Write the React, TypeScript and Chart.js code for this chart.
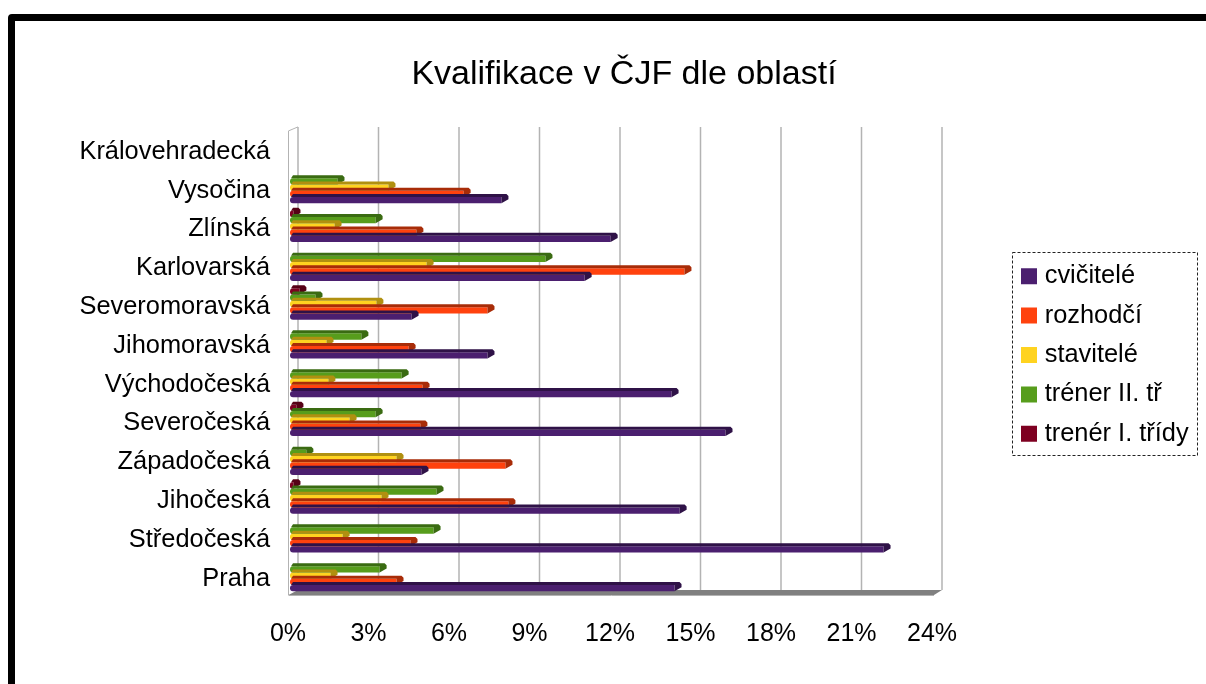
import React, { useEffect, useRef } from "react";
import { Chart, registerables } from "chart.js";

Chart.register(...registerables);

const categories = ["Praha", "Středočeská", "Jihočeská", "Západočeská", "Severočeská", "Východočeská", "Jihomoravská", "Severomoravská", "Karlovarská", "Zlínská", "Vysočina", "Královehradecká"];
const cvicitele = [14.33, 22.12, 14.52, 4.9, 16.23, 14.22, 7.36, 4.53, 10.98, 11.95, 7.88, 0];
const rozhodci = [3.97, 4.49, 8.14, 8.03, 4.86, 4.94, 4.42, 7.36, 14.7, 4.71, 6.47, 0];
const stavitele = [1.51, 1.96, 3.41, 3.97, 2.22, 1.43, 1.36, 3.22, 5.09, 1.66, 3.67, 0];
const trener2 = [3.34, 5.35, 5.46, 0.61, 3.19, 4.16, 2.66, 0.95, 9.52, 3.19, 1.77, 0];
const trener1 = [0, 0, 0.13, 0, 0.24, 0, 0, 0.35, 0, 0.13, 0, 0];
const seriesNames = ["cvičitelé", "rozhodčí", "stavitelé", "tréner II. tř", "trenér I. třídy"];
const seriesValues = [cvicitele, rozhodci, stavitele, trener2, trener1];
const seriesColors = ["#4b1f6f", "#ff420e", "#ffd320", "#579d1c", "#7e0021"];
const seriesDark = ["#2f1247", "#a82c08", "#b09010", "#3a6b12", "#560016"];

const FONT = "'Liberation Sans', Arial, sans-serif";
const WALL_DX = 8;
const WALL_DY = 5;
const BAR_DX = 7;
const BAR_DY = 3;

const frame3d = {
  id: "frame3d",
  beforeInit(chart: any) {
    const legend = chart.legend;
    const fit = legend.fit;
    legend.fit = function () {
      fit.call(this);
      this.width = 272;
    };
  },
  beforeDraw(chart: any) {
    const l = chart.legend;
    l.left = 1012;
    l.right = 1198;
    l.top = 249.5;
    l.bottom = 684;
    const ctx = chart.ctx;
    ctx.save();
    ctx.strokeStyle = "#222";
    ctx.lineWidth = 1;
    ctx.setLineDash([3, 2]);
    ctx.strokeRect(1012.5, 252.5, 185, 203);
    ctx.restore();
  },
  beforeDatasetsDraw(chart: any) {
    const { ctx, chartArea: a, scales } = chart;
    const x = scales.x;
    const backTop = a.top - 2.5;
    const backBottom = a.bottom - WALL_DY;
    ctx.save();
    ctx.strokeStyle = "#b3b3b3";
    ctx.lineWidth = 1.5;
    x.ticks.forEach((t: any) => {
      const px = x.getPixelForValue(t.value) + WALL_DX;
      ctx.beginPath();
      ctx.moveTo(px, backTop);
      ctx.lineTo(px, backBottom);
      ctx.stroke();
    });
    // left side wall
    ctx.lineWidth = 1;
    ctx.beginPath();
    ctx.moveTo(a.left - 1.5, a.bottom);
    ctx.lineTo(a.left - 1.5, backTop + 4);
    ctx.lineTo(a.left + WALL_DX, backTop);
    ctx.stroke();
    // floor
    ctx.fillStyle = "#808080";
    ctx.beginPath();
    ctx.moveTo(a.left - 1.5, a.bottom);
    ctx.lineTo(a.left + WALL_DX, backBottom);
    ctx.lineTo(a.right + WALL_DX, backBottom);
    ctx.lineTo(a.right, a.bottom);
    ctx.closePath();
    ctx.fill();
    ctx.strokeStyle = "#b3b3b3";
    ctx.beginPath();
    ctx.moveTo(a.left - 1.5, a.bottom + 0.5);
    ctx.lineTo(a.right, a.bottom + 0.5);
    ctx.stroke();
    ctx.restore();
  },
  afterDatasetsDraw(chart: any) {
    const { ctx } = chart;
    ctx.save();
    chart.data.datasets.forEach((ds: any, i: number) => {
      ctx.fillStyle = ds.depthColor;
      chart.getDatasetMeta(i).data.forEach((el: any) => {
        const { x, y, base, height } = el.getProps(["x", "y", "base", "height"], true);
        if (x - base < 0.5) return;
        const top = y - height / 2;
        const bottom = y + height / 2;
        ctx.beginPath();
        ctx.moveTo(base + 1, top);
        ctx.lineTo(base + 3, top - BAR_DY);
        ctx.lineTo(x + BAR_DX - 2, top - BAR_DY);
        ctx.lineTo(x + BAR_DX, top - BAR_DY + 2);
        ctx.lineTo(x + BAR_DX, bottom - BAR_DY - 1);
        ctx.lineTo(x, bottom);
        ctx.lineTo(x, top);
        ctx.closePath();
        ctx.fill();
      });
    });
    ctx.restore();
  },
};

export default function App() {
  const ref = useRef<HTMLCanvasElement | null>(null);
  useEffect(() => {
    document.body.style.overflow = "hidden";
    const chart = new Chart(ref.current as HTMLCanvasElement, {
      type: "bar",
      data: {
        labels: categories,
        datasets: seriesNames
          .map((name, i) => ({
            label: name,
            data: seriesValues[i],
            backgroundColor: seriesColors[i],
            depthColor: seriesDark[i],
            borderRadius: { topLeft: 3, bottomLeft: 3, topRight: 0, bottomRight: 0 },
            borderSkipped: false,
            barPercentage: 1,
            categoryPercentage: 0.81,
          }))
          .reverse(),
      },
      plugins: [frame3d],
      options: {
        indexAxis: "y",
        responsive: false,
        animation: false,
        layout: { padding: { left: 42, top: 0, right: 0, bottom: 0 } },
        plugins: {
          tooltip: { enabled: false },
          title: {
            display: true,
            text: "Kvalifikace v ČJF dle oblastí",
            color: "#000",
            font: { family: FONT, size: 34, weight: "normal", lineHeight: 1 },
            padding: { top: 58, bottom: 37.4 },
          },
          legend: {
            display: true,
            position: "right",
            align: "start",
            labels: {
              color: "#000",
              font: { family: FONT, size: 25.4, lineHeight: 1.2 },
              boxWidth: 6,
              boxHeight: 6,
              padding: 14,
              generateLabels: () =>
                seriesNames.map((name, i) => ({
                  text: name,
                  fillStyle: seriesColors[i],
                  strokeStyle: seriesColors[i],
                  lineWidth: 10,
                  datasetIndex: 4 - i,
                })),
            },
          },
        },
        scales: {
          x: {
            type: "linear",
            min: 0,
            max: 24,
            grid: { display: false, drawTicks: false },
            border: { display: false },
            afterFit(s: any) {
              s.height = 89;
            },
            ticks: {
              stepSize: 3,
              padding: 24,
              labelOffset: -2,
              maxRotation: 0,
              color: "#000",
              font: { family: FONT, size: 25 },
              callback: (v: any) => v + "%",
            },
          },
          y: {
            type: "category",
            reverse: true,
            grid: { display: false, drawTicks: false },
            border: { display: false },
            afterFit(s: any) {
              s.width = 248;
            },
            ticks: {
              padding: 20,
              labelOffset: 3,
              autoSkip: false,
              color: "#000",
              font: { family: FONT, size: 25.4 },
            },
          },
        },
      },
    } as any);
    return () => chart.destroy();
  }, []);
  return (
    <div>
      <div
        style={{
          position: "fixed",
          left: 8,
          top: 14,
          width: 1500,
          height: 1000,
          border: "7px solid #000",
          borderRadius: 4,
          background: "#fff",
        }}
      />
      <canvas ref={ref} width={1206} height={684} style={{ position: "fixed", left: 0, top: 0, display: "block" }} />
    </div>
  );
}
